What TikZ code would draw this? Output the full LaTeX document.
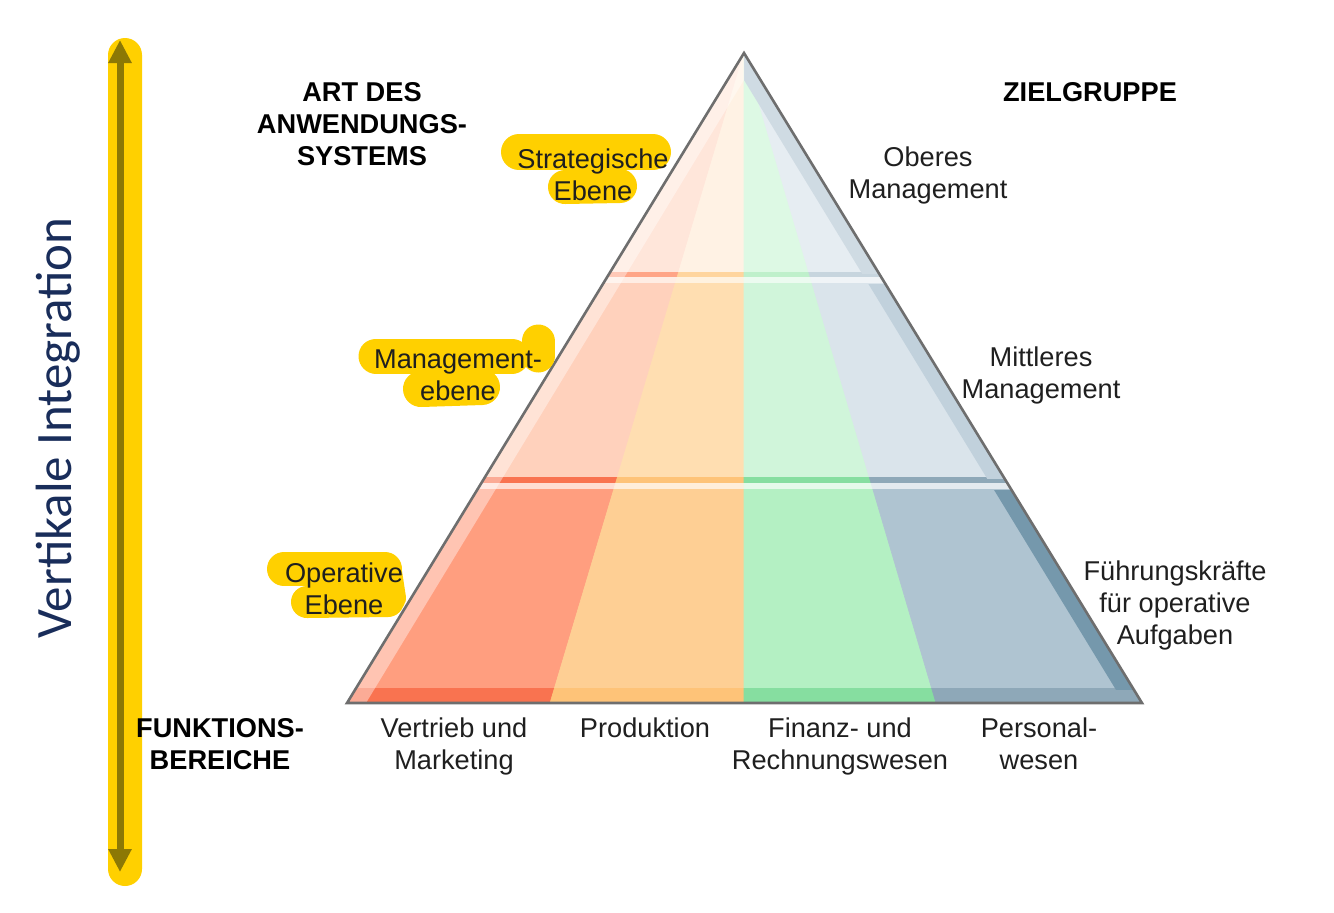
\documentclass[tikz,border=0pt]{standalone}
\usepackage{fontspec}
\setmainfont{Liberation Sans}
\newfontfamily\titlefont{Carlito}
\usetikzlibrary{arrows.meta}

% 颜色
\definecolor{hl}{RGB}{255,208,0}
\definecolor{arrowc}{RGB}{140,120,5}
\definecolor{navy}{RGB}{25,45,90}
\definecolor{edgec}{RGB}{110,110,110}
\definecolor{rT}{RGB}{255,230,218}\definecolor{oT}{RGB}{255,242,228}
\definecolor{gT}{RGB}{221,249,228}\definecolor{bT}{RGB}{230,237,242}
\definecolor{rA}{RGB}{255,165,135}\definecolor{oA}{RGB}{255,213,158}
\definecolor{gA}{RGB}{191,240,203}\definecolor{bA}{RGB}{199,213,222}
\definecolor{rM}{RGB}{255,209,188}\definecolor{oM}{RGB}{255,222,177}
\definecolor{gM}{RGB}{208,245,218}\definecolor{bM}{RGB}{218,228,235}
\definecolor{rD}{RGB}{249,115,80}\definecolor{oD}{RGB}{254,195,120}
\definecolor{gD}{RGB}{134,222,160}\definecolor{bD}{RGB}{142,168,184}
\definecolor{rB}{RGB}{255,158,127}\definecolor{oB}{RGB}{254,207,148}
\definecolor{gB}{RGB}{180,240,195}\definecolor{bB}{RGB}{175,196,209}
\definecolor{bS}{RGB}{63,111,138}

\begin{document}
\begin{tikzpicture}[x=0.5pt,y=-0.5pt,
    lbl/.style={font=\fontsize{13.6}{16}\selectfont, text=black!88, align=center, inner sep=0pt},
    hd/.style={lbl, font=\fontsize{13.6}{16}\selectfont\bfseries, text=black},
    marker/.style={draw=hl, line cap=round, line join=round},
    edge/.style={draw=edgec, line width=1.3pt, line join=miter}]
    \useasboundingbox (0,0) rectangle (1334,912);

    % 左侧黄色竖条和双向箭头
    \fill[hl, rounded corners=8.5pt] (108,38) rectangle (142,886);
    \coordinate (vtop) at (120,40);
    \coordinate (vbot) at (120,872);
    \draw[arrowc, line width=3.5pt, {Triangle[width=11pt,length=11.5pt]}-{Triangle[width=11pt,length=11.5pt]}] (vbot) -- (vtop);
    \node[font=\titlefont\fontsize{25.5}{30}\selectfont, text=navy, rotate=90] (vint) at (58,428) {Vertikale Integration};

    % 金字塔顶点和底边
    \coordinate (apex) at (744,53);
    \coordinate (bl) at (347,703);
    \coordinate (br) at (1142,703);

    % 每一层: 四个职能列 (都汇聚到顶点)
    \foreach \ya/\yb/\ca/\cb/\cc/\cd in {53/273/rT/oT/gT/bT, 273/278/rA/oA/gA/bA,
        278/284/rM!40/oM!40/gM!40/bM!40, 284/478/rM/oM/gM/bM, 478/484/rD/oD/gD/bD,
        484/490/rB!35/oB!35/gB!35/bB!35, 490/689/rB/oB/gB/bB, 689/703/rD/oD/gD/bD} {
        \begin{scope}
            \clip (300,\ya-0.3) rectangle (1200,\yb+0.3);
            \filldraw[\ca, line width=0.3pt] (apex) -- (347,703) -- (550,703) -- cycle;
            \filldraw[\cb, line width=0.3pt] (apex) -- (550,703) -- (744,703) -- cycle;
            \filldraw[\cc, line width=0.3pt] (apex) -- (744,703) -- (936,703) -- cycle;
            \filldraw[\cd, line width=0.3pt] (apex) -- (936,703) -- (1142,703) -- cycle;
        \end{scope}
    }

    % 右侧斜边的暗色棱 (每层一段)
    \begin{scope}
        \clip (300,53) rectangle (1200,273);
        \fill[bT!86!bS] (apex) -- (br) -- (1124,703) -- (744,80) -- cycle;
    \end{scope}
    \begin{scope}
        \clip (300,284) rectangle (1200,478);
        \fill[bM!84!bS] (apex) -- (br) -- (1124,703) -- (744,80) -- cycle;
    \end{scope}
    \begin{scope}
        \clip (300,490) rectangle (1200,689);
        \fill[bB!48!bS] (apex) -- (br) -- (1124,703) -- (744,80) -- cycle;
    \end{scope}

    % 左侧斜边的亮棱
    \fill[white, opacity=0.4] (apex) -- (bl) -- (366,703) -- (744,80) -- cycle;

    % 轮廓
    \draw[edge] (apex) -- (bl) -- (br) -- cycle;

    % 黄色荧光笔标记
    \draw[marker, line width=18pt] (519,152) -- (653,152);
    \draw[marker, line width=17pt] (565,187) -- (620,186);
    \draw[marker, line width=17.5pt] (376,356) -- (512,356);
    \draw[marker, line width=16.5pt] (538,341) -- (538,356);
    \draw[marker, line width=18pt] (421,389) -- (482,387);
    \draw[marker, line width=17pt] (284,569) -- (385,569);
    \draw[marker, line width=16pt] (307,602) -- (388,601);
    \draw[marker, line width=14pt] (388,572) -- (392,598);

    % 标题
    \node[hd] (art) at (362,124) {ART DES\\ANWENDUNGS-\\SYSTEMS};
    \node[hd] (ziel) at (1090,92) {ZIELGRUPPE};
    \node[hd] (funk) at (220,744) {FUNKTIONS-\\BEREICHE};

    % 左边: 系统层次
    \node[lbl] (strat) at (593,175) {Strategische\\Ebene};
    \node[lbl] (mgmtebene) at (458,375) {Management-\\ebene};
    \node[lbl] (opebene) at (344,589) {Operative\\Ebene};

    % 右边: 目标群体
    \node[lbl] (oberes) at (928,175) {Oberes\\Management};
    \node[lbl] (mittleres) at (1041,375) {Mittleres\\Management};
    \node[lbl] (fuehrung) at (1175,605) {Führungskräfte\\für operative\\Aufgaben};

    % 底部: 职能领域
    \node[lbl] (vertrieb) at (454,746) {Vertrieb und\\Marketing};
    \node[lbl] (prod) at (645,728) {Produktion};
    \node[lbl] (finanz) at (840,746) {Finanz- und\\Rechnungswesen};
    \node[lbl] (personal) at (1039,744) {Personal-\\wesen};
\end{tikzpicture}
\end{document}
